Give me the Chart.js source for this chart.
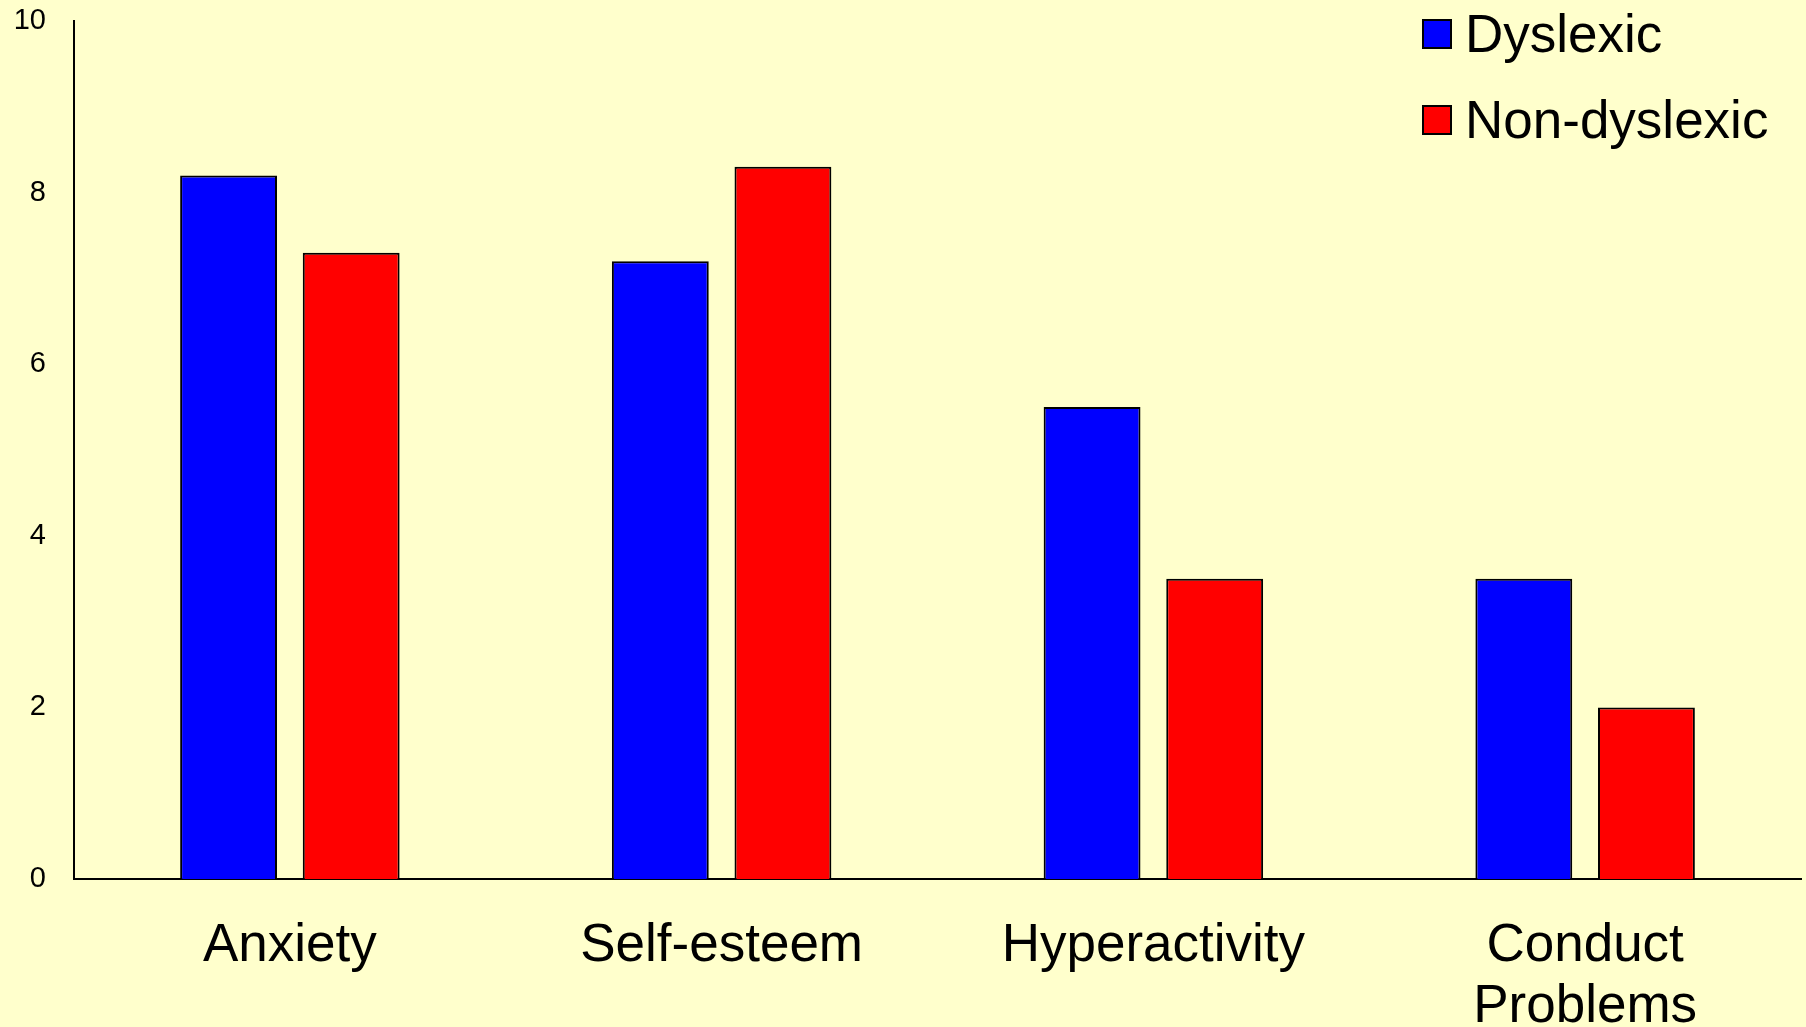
<!DOCTYPE html>
<html>
<head>
<meta charset="utf-8">
<title>Dyslexic vs Non-dyslexic</title>
<script src="https://cdn.jsdelivr.net/npm/chart.js@4/dist/chart.umd.min.js"></script>
<style>
  html, body { margin: 0; padding: 0; background: #FFFFCC; }
  #wrap { width: 1806px; height: 1027px; }
</style>
</head>
<body>
<div id="wrap"><canvas id="c" width="1806" height="1027"></canvas></div>
<script>
const categories = ['Anxiety', 'Self-esteem', 'Hyperactivity', ['Conduct', 'Problems']];
const seriesNames = ['Dyslexic', 'Non-dyslexic'];
const dyslexic = [8.2, 7.2, 5.5, 3.5];
const nonDyslexic = [7.3, 8.3, 3.5, 2.0];
const seriesColors = ['#0000FF', '#FF0000'];
const yTicks = [0, 2, 4, 6, 8, 10];

const FONT = '"Liberation Sans", Arial, sans-serif';

// Legend stacked in the top-right corner of the plot
const cornerLegend = {
  id: 'cornerLegend',
  afterDraw(chart) {
    const ctx = chart.ctx;
    ctx.save();
    ctx.font = '53px ' + FONT;
    ctx.textBaseline = 'alphabetic';
    ctx.textAlign = 'left';
    chart.data.datasets.forEach((ds, i) => {
      const y = 20 + i * 86;
      ctx.fillStyle = ds.backgroundColor;
      ctx.fillRect(1423, y, 28, 28);
      ctx.lineWidth = 2;
      ctx.strokeStyle = '#000';
      ctx.strokeRect(1423, y, 28, 28);
      ctx.fillStyle = '#000';
      ctx.fillText(ds.label, 1465, y + 32);
    });
    ctx.restore();
  }
};

new Chart(document.getElementById('c'), {
  type: 'bar',
  data: {
    labels: categories,
    datasets: [
      { label: seriesNames[0], data: dyslexic, backgroundColor: seriesColors[0], borderColor: '#000', borderWidth: 2 },
      { label: seriesNames[1], data: nonDyslexic, backgroundColor: seriesColors[1], borderColor: '#000', borderWidth: 2 }
    ]
  },
  options: {
    responsive: false,
    animation: false,
    devicePixelRatio: 1,
    categoryPercentage: 0.568,
    barPercentage: 0.79,
    layout: { padding: { top: 21, right: 5, left: 0, bottom: 0 } },
    plugins: {
      legend: { display: false },
      tooltip: { enabled: false }
    },
    scales: {
      x: {
        grid: { display: false, drawTicks: false },
        border: { display: true, color: '#000', width: 2 },
        ticks: {
          color: '#000',
          font: { family: FONT, size: 53, lineHeight: 1.15 },
          padding: 37,
          maxRotation: 0,
          autoSkip: false
        },
        afterFit(scale) { scale.height = 148; }
      },
      y: {
        min: 0,
        max: 10,
        afterBuildTicks(scale) { scale.ticks = yTicks.map(v => ({ value: v })); },
        grid: { display: false, drawTicks: false },
        border: { display: true, color: '#000', width: 2 },
        ticks: {
          color: '#000',
          font: { family: FONT, size: 29 },
          padding: 28
        },
        afterFit(scale) {
          scale.width = 74;
          scale.paddingTop = 0;
          scale.paddingBottom = 0;
        }
      }
    }
  },
  plugins: [cornerLegend]
});
</script>
</body>
</html>
